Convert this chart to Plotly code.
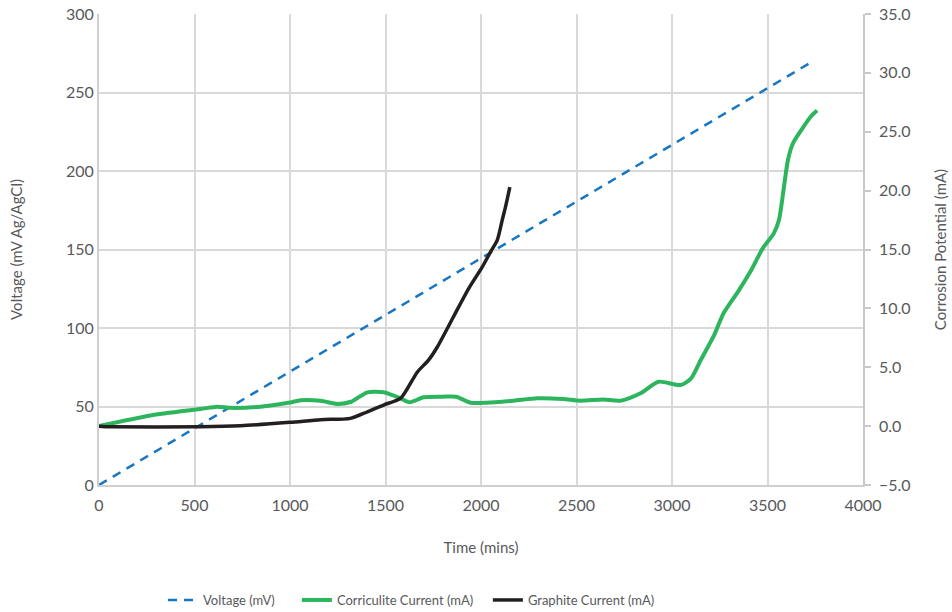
import plotly.graph_objects as go

# Voltage (mV) - left axis
volt_time = [0, 3725]
volt_mv = [0, 269]

# Corriculite current (mA) - right axis
corr_time = [0, 270, 530, 620, 690, 845, 1000, 1055, 1160, 1250, 1320, 1405, 1490, 1525,
             1580, 1625, 1700, 1800, 1870, 1945, 2030, 2170, 2295, 2430, 2520, 2640, 2730,
             2835, 2930, 3045, 3100, 3150, 3220, 3270, 3345, 3415, 3475, 3533, 3560, 3586,
             3607, 3633, 3675, 3727, 3760]
corr_ma = [0.0, 0.9, 1.45, 1.65, 1.55, 1.65, 2.0, 2.2, 2.15, 1.88, 2.07, 2.87, 2.87, 2.7,
           2.36, 2.02, 2.45, 2.5, 2.5, 1.99, 1.99, 2.16, 2.36, 2.3, 2.16, 2.27, 2.16,
           2.79, 3.77, 3.49, 4.06, 5.6, 7.7, 9.58, 11.4, 13.25, 15.1, 16.37, 17.5, 20.3,
           22.6, 24.0, 25.1, 26.3, 26.8]

# Graphite current (mA) - right axis
graph_time = [0, 60, 530, 740, 1000, 1160, 1316, 1405, 1490, 1578, 1615, 1667, 1725, 1772,
              1856, 1936, 2006, 2050, 2085, 2111, 2128, 2151]
graph_ma = [0.0, -0.05, -0.05, 0.03, 0.32, 0.55, 0.66, 1.22, 1.79, 2.36, 3.2, 4.6, 5.6, 6.74,
            9.29, 11.7, 13.5, 14.8, 15.8, 17.5, 18.6, 20.3]

left_ticks = [0, 50, 100, 150, 200, 250, 300]
right_ticks = [-5, 0, 5, 10, 15, 20, 25, 30, 35]
x_ticks = [0, 500, 1000, 1500, 2000, 2500, 3000, 3500, 4000]

TEXT = "#58595b"
GRID = "#d9d9d9"
FONT = "Lato"

fig = go.Figure()
fig.add_trace(go.Scatter(x=volt_time, y=volt_mv, name="Voltage (mV)", mode="lines",
                         legend="legend",
                         line=dict(color="#1877c2", width=2.5, dash="9px,7px")))
fig.add_trace(go.Scatter(x=corr_time, y=corr_ma, name="Corriculite Current (mA)", mode="lines",
                         yaxis="y2", legend="legend2",
                         line=dict(color="#2db55d", width=4, shape="spline", smoothing=0.7)))
fig.add_trace(go.Scatter(x=graph_time, y=graph_ma, name="Graphite Current (mA)", mode="lines",
                         yaxis="y2", legend="legend3",
                         line=dict(color="#231f20", width=3.5, shape="spline", smoothing=0.7)))

leg_common = dict(orientation="h", xanchor="left", yref="container", y=0.0196, yanchor="middle",
                  font=dict(size=13, color=TEXT), bgcolor="rgba(0,0,0,0)")

fig.update_layout(
    width=952, height=612,
    margin=dict(l=99, r=89, t=14, b=127),
    paper_bgcolor="white", plot_bgcolor="white",
    font=dict(family=FONT, color=TEXT, size=14),
    xaxis=dict(range=[0, 4000], tickvals=x_ticks, showgrid=True, gridcolor=GRID, gridwidth=1.5,
               showline=True, linecolor="#cfcfcf", linewidth=2, zeroline=False, automargin=False,
               ticks="outside", ticklen=5, tickcolor="rgba(0,0,0,0)", ticklabeloverflow="allow",
               tickfont=dict(size=16, color=TEXT),
               title=dict(text="Time (mins)", font=dict(size=15, color=TEXT), standoff=29)),
    yaxis=dict(range=[0, 300], tickvals=left_ticks, showgrid=True, gridcolor=GRID, gridwidth=1.5,
               showline=True, linecolor="#cfcfcf", linewidth=2, zeroline=False, automargin=False,
               ticks="", ticklabeloverflow="allow", tickfont=dict(size=16, color=TEXT),
               title=dict(text="Voltage (mV Ag/AgCl)", font=dict(size=15, color=TEXT), standoff=40)),
    yaxis2=dict(range=[-5, 35], tickvals=right_ticks, tickformat=".1f", overlaying="y", side="right",
                showgrid=False, zeroline=False, showline=True, linecolor="#c8c8c8", linewidth=1.5,
                ticks="outside", ticklen=6, tickcolor="#c8c8c8", tickwidth=1.5, automargin=False,
                ticklabelstandoff=5, ticklabeloverflow="allow",
                tickfont=dict(size=16, color=TEXT),
                title=dict(text="Corrosion Potential (mA)", font=dict(size=15, color=TEXT), standoff=26)),
    legend=dict(x=0.0838, **leg_common),
    legend2=dict(x=0.259, **leg_common),
    legend3=dict(x=0.509, **leg_common),
    showlegend=True,
)

fig.write_html("out.html", config={"displayModeBar": False},
               post_script="document.body.style.margin='0';")
